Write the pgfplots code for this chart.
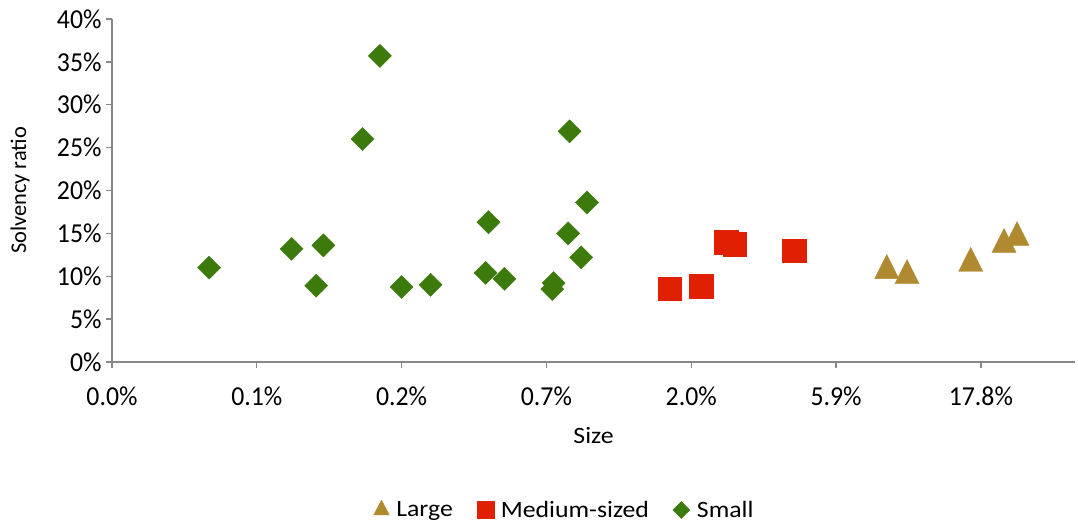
\documentclass[border=0pt]{standalone}
\usepackage{fontspec}
\setmainfont{Carlito}[FakeStretch=1.1]
\newfontfamily\plainfont{Carlito}
\newfontfamily\tickfont{Carlito}[FakeStretch=0.94]
\usepackage{pgfplots}
\pgfplotsset{compat=1.18}
\definecolor{smallgreen}{HTML}{3D7A0C}
\definecolor{medred}{HTML}{E02000}
\definecolor{largegold}{HTML}{AF8A30}
\definecolor{axisgray}{HTML}{878787}
\begin{document}
\begin{tikzpicture}
\begin{axis}[
  scale only axis, width=963bp, height=343bp,
  xmin=0, xmax=6.65, ymin=0, ymax=40,
  clip=false,
  axis lines=left, axis line style={draw=axisgray, line width=1.3bp, -},
  tick align=outside, major tick length=6bp,
  tick style={draw=axisgray, line width=1.3bp},
  xtick={0,1,2,3,4,5,6},
  xticklabels={0.0\%,0.1\%,0.2\%,0.7\%,2.0\%,5.9\%,17.8\%},
  ytick={0,5,10,15,20,25,30,35,40},
  yticklabels={0\%,5\%,10\%,15\%,20\%,25\%,30\%,35\%,40\%},
  tick label style={font=\tickfont\fontsize{27.5}{30}\selectfont, text=black},
  xticklabel style={yshift=-15bp},
  yticklabel style={xshift=-1bp},
  xlabel={Size},
  xlabel style={font=\fontsize{23.5}{26}\selectfont, at={(axis description cs:0.5,-0.2157)}, anchor=center},
  ylabel={\plainfont Solvency ratio},
  ylabel style={font=\fontsize{22.5}{26}\selectfont, at={(axis description cs:-0.0955,0.5)}, anchor=center},
  legend columns=3,
  legend style={at={(axis description cs:0.470,-0.4315)}, anchor=center, draw=none,
    font=\fontsize{23.5}{26}\selectfont,
    /tikz/every even column/.append style={column sep=22bp},
    /tikz/every odd column/.append style={column sep=5bp}},
]
\addplot[only marks, mark=triangle*, mark size=14bp, largegold,
  mark options={yscale=1.15, draw=largegold, fill=largegold, line width=0.3bp},
  legend image code/.code={\draw[mark=triangle*, mark size=9bp, mark options={draw=largegold, fill=largegold, yscale=1.1}] plot coordinates {(0bp,0bp)};}]
coordinates {(5.35,10.66) (5.49,10.07) (5.93,11.5) (6.16,13.7) (6.25,14.5)};
\addlegendentry{Large}
\addplot[only marks, mark=square*, mark size=11.8bp, medred,
  mark options={draw=medred, fill=medred, line width=0.3bp},
  legend image code/.code={\draw[mark=square*, mark size=8.5bp, mark options={draw=medred, fill=medred}] plot coordinates {(0bp,0bp)};}]
coordinates {(3.85,8.55) (4.07,8.86) (4.24,14.0) (4.30,13.76) (4.71,13.0)};
\addlegendentry{Medium-sized}
\addplot[only marks, mark=square*, mark size=8.2bp, smallgreen,
  mark options={rotate=45, draw=smallgreen, fill=smallgreen, line width=0.3bp},
  legend image code/.code={\draw[mark=square*, mark size=6bp, mark options={rotate=45, draw=smallgreen, fill=smallgreen}] plot coordinates {(0bp,0bp)};}]
coordinates {(0.67,11.0) (1.24,13.2) (1.46,13.6) (1.41,8.9) (1.73,26.0) (1.85,35.7)
 (2.00,8.75) (2.20,9.0) (2.60,16.3) (2.58,10.4) (2.71,9.7) (3.04,8.5) (3.05,9.2)
 (3.16,26.9) (3.15,15.0) (3.28,18.6) (3.24,12.2)};
\addlegendentry{Small}
\end{axis}
\pgfresetboundingbox
\path ([xshift=-112bp,yshift=-163bp]current axis.south west) rectangle ([xshift=3bp,yshift=19bp]current axis.north east);
\end{tikzpicture}
\end{document}
